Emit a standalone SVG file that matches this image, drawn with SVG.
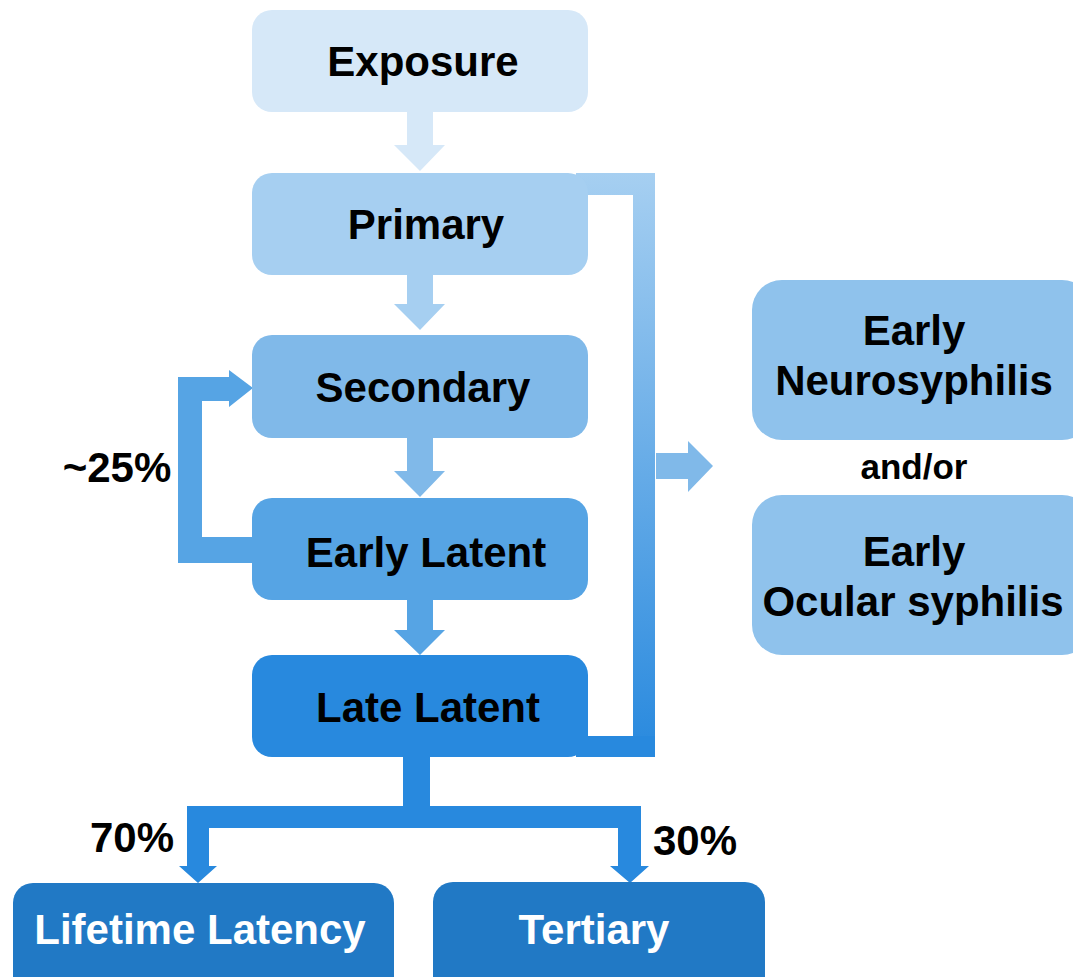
<svg xmlns="http://www.w3.org/2000/svg" width="1073" height="977" viewBox="0 0 1073 977">
<defs>
<linearGradient id="br" x1="0" y1="173" x2="0" y2="757" gradientUnits="userSpaceOnUse">
<stop offset="0" stop-color="#A6CFF1"/>
<stop offset="1" stop-color="#2889DE"/>
</linearGradient>
</defs>
<style>
text{font-family:"Liberation Sans",Arial,sans-serif;font-weight:bold;font-size:42px;fill:#000;text-anchor:middle}
.w{fill:#fff}
</style>
<rect width="1073" height="977" fill="#fff"/>
<g id="connectors">
<polygon fill="#D6E8F8" points="407,112 433,112 433,145 445,145 420,171 394,145 407,145"/>
<polygon fill="#A6CFF1" points="407,274 433,274 433,304 445,304 420,330 394,304 407,304"/>
<polygon fill="#80B9E9" points="407,437 433,437 433,471 445,471 420,497 394,471 407,471"/>
<polygon fill="#56A4E4" points="407,599 433,599 433,630 445,630 420,655 394,630 407,630"/>
<polygon fill="#56A4E4" points="253,563 178,563 178,377 229,377 229,370 253,388 229,407 229,401 202,401 202,537 253,537"/>
<path fill="url(#br)" d="M576,173 H655 V757 H576 V736 H633 V195 H576 Z"/>
<polygon fill="#80B9E9" points="656,453 688,453 688,441 713,466 688,492 688,479 656,479"/>
<polygon fill="#2889DE" points="403,756 430,756 430,806 641,806 641,866 649,866 630,883 610,866 618,866 618,828 209,828 209,866 217,866 198,883 179,866 187,866 187,806 403,806"/>
</g>
<g id="exposure"><rect x="252" y="10" width="336" height="102" rx="20" fill="#D6E8F8"/><text x="423" y="76">Exposure</text></g>
<g id="primary"><rect x="252" y="173" width="336" height="102" rx="20" fill="#A6CFF1"/><text x="426" y="239">Primary</text></g>
<g id="secondary"><rect x="252" y="335" width="336" height="103" rx="20" fill="#80B9E9"/><text x="423" y="402">Secondary</text></g>
<g id="early-latent"><rect x="252" y="498" width="336" height="102" rx="20" fill="#56A4E4"/><text x="426" y="567">Early Latent</text></g>
<g id="late-latent"><rect x="252" y="655" width="336" height="102" rx="20" fill="#2889DE"/><text x="428" y="722">Late Latent</text></g>
<g id="bracket-bottom"><rect x="576" y="736" width="79" height="21" fill="#2889DE"/></g>
<g id="lifetime-latency"><rect x="13" y="883" width="381" height="120" rx="20" fill="#2179C5"/><text class="w" x="200" y="944">Lifetime Latency</text></g>
<g id="tertiary"><rect x="433" y="882" width="332" height="120" rx="20" fill="#2179C5"/><text class="w" x="594" y="944">Tertiary</text></g>
<g id="early-neuro"><rect x="752" y="280" width="340" height="160" rx="30" fill="#8FC2EC"/><text x="914" y="345">Early</text><text x="914" y="395">Neurosyphilis</text></g>
<g id="andor"><text x="914" y="479" style="font-size:35px">and/or</text></g>
<g id="early-ocular"><rect x="752" y="495" width="340" height="160" rx="30" fill="#8FC2EC"/><text x="914" y="566">Early</text><text x="913" y="616">Ocular syphilis</text></g>
<g id="labels">
<text x="117" y="482">~25%</text>
<text x="132" y="852">70%</text>
<text x="695" y="855">30%</text>
</g>
</svg>
